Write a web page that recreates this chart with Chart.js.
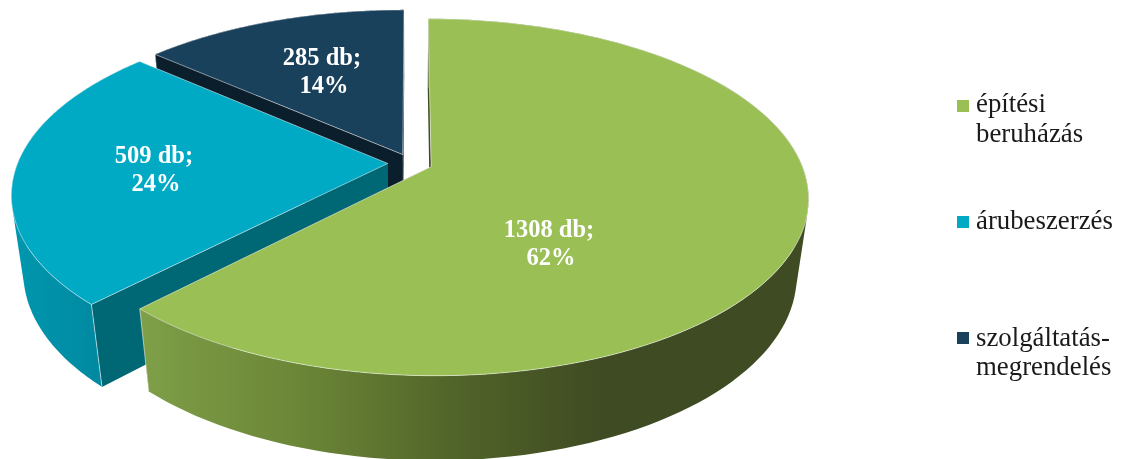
<!DOCTYPE html>
<html>
<head>
<meta charset="utf-8">
<style>
  html, body { margin: 0; padding: 0; background: #fff; }
  canvas { display: block; }
</style>
<script src="https://cdn.jsdelivr.net/npm/chart.js@4"></script>
</head>
<body>
<canvas id="chart" width="1125" height="459"></canvas>
<script>
'use strict';

var categories = [['építési', 'beruházás'], ['árubeszerzés'], ['szolgáltatás-', 'megrendelés']];
var values = [1308, 509, 285];
var percents = [62, 24, 14];
var sliceColors = ['#99BF55', '#00A9C4', '#1A415C'];

// perspective of the pie plane (the library's own arcs give the angles and radius)
var view = { x0: 411, y0: 163, a: 172, b: 370, p: 0.17, q: 0.03, h: 79 };
var wallColors = ['#3F4B22', '#006875', '#0B1E2C'];
var rimStops = [
  [[138, '#7F9F48'], [300, '#6B8637'], [450, '#526529'], [600, '#3F4B22']],
  [[15, '#0097AE'], [100, '#0089A1']],
  [[150, '#0B1E2C'], [400, '#0B1E2C']]
];
var labelPos = [[549, 229], [154, 155], [322, 57]];
var legendPos = [
  { box: 100, lines: [112, 142] },
  { box: 216, lines: [229] },
  { box: 332, lines: [346, 375] }
];

function project(u, v, d) {
  var w = 1 - view.p * v + view.q * d;
  return { x: view.x0 + view.b * u / w, y: view.y0 + (view.a * v + view.h * d) / w };
}

function slicePoints(el) {
  var mid = (el.startAngle + el.endAngle) / 2;
  var e = el.options.offset / el.outerRadius;
  var ox = Math.cos(mid) * e, oy = Math.sin(mid) * e;
  var rim = [];
  var n = 120;
  for (var i = 0; i <= n; i++) {
    var a = el.startAngle + (el.endAngle - el.startAngle) * i / n;
    rim.push([ox + Math.cos(a), oy + Math.sin(a)]);
  }
  return { apex: [ox, oy], rim: rim };
}

function addPoly(ctx, pts) {
  pts.forEach(function(p, i) {
    if (i === 0) ctx.moveTo(p.x, p.y); else ctx.lineTo(p.x, p.y);
  });
  ctx.closePath();
}

function poly(ctx, pts) {
  ctx.beginPath();
  addPoly(ctx, pts);
}

function area(pts) {
  var sum = 0;
  pts.forEach(function(p, i) {
    var q = pts[(i + 1) % pts.length];
    sum += p.x * q.y - q.x * p.y;
  });
  return sum;
}

function drawSlice(ctx, el, i) {
  var s = slicePoints(el);
  var first = s.rim[0], last = s.rim[s.rim.length - 1];

  // radial walls
  [first, last].forEach(function(r) {
    poly(ctx, [
      project(s.apex[0], s.apex[1], 0), project(r[0], r[1], 0),
      project(r[0], r[1], 1), project(s.apex[0], s.apex[1], 1)
    ]);
    ctx.fillStyle = wallColors[i];
    ctx.fill();
  });

  // outer wall: quads wound the same way in one path, so no seams and a closed silhouette
  var stops = rimStops[i];
  var x1 = stops[0][0], x2 = stops[stops.length - 1][0];
  var grad = ctx.createLinearGradient(x1, 0, x2, 0);
  stops.forEach(function(st) { grad.addColorStop((st[0] - x1) / (x2 - x1), st[1]); });
  var top = s.rim.map(function(r) { return project(r[0], r[1], 0); });
  var bottom = s.rim.map(function(r) { return project(r[0], r[1], 1); });
  ctx.beginPath();
  for (var k = 0; k < top.length - 1; k++) {
    var quad = [top[k], top[k + 1], bottom[k + 1], bottom[k]];
    if (area(quad) < 0) quad.reverse();
    addPoly(ctx, quad);
  }
  ctx.fillStyle = grad;
  ctx.fill();

  // corner edges
  ctx.strokeStyle = 'rgba(255,255,255,0.55)';
  ctx.lineWidth = 1;
  [first, last].forEach(function(r) {
    var a = project(r[0], r[1], 0), b = project(r[0], r[1], 1);
    ctx.beginPath();
    ctx.moveTo(a.x, a.y);
    ctx.lineTo(b.x, b.y);
    ctx.stroke();
  });

  // top face
  poly(ctx, [project(s.apex[0], s.apex[1], 0)].concat(top));
  ctx.fillStyle = el.options.backgroundColor;
  ctx.fill();
  ctx.strokeStyle = 'rgba(255,255,255,0.5)';
  ctx.stroke();
}

var pie3d = {
  id: 'pie3d',
  beforeDatasetDraw: function() { return false; },
  afterDatasetsDraw: function(chart) {
    var ctx = chart.ctx;
    var arcs = chart.getDatasetMeta(0).data;
    ctx.save();
    for (var i = arcs.length - 1; i >= 0; i--) drawSlice(ctx, arcs[i], i);

    ctx.textAlign = 'center';
    ctx.textBaseline = 'alphabetic';
    ctx.fillStyle = '#fff';
    ctx.font = 'bold 24.5px "Liberation Serif", serif';
    values.forEach(function(v, i) {
      ctx.fillText(v + ' db;', labelPos[i][0], labelPos[i][1] + 8);
      ctx.fillText(percents[i] + '%', labelPos[i][0] + 2, labelPos[i][1] + 36);
    });

    ctx.textAlign = 'left';
    ctx.font = '26.8px "Liberation Serif", serif';
    categories.forEach(function(lines, i) {
      ctx.fillStyle = sliceColors[i];
      ctx.fillRect(957, legendPos[i].box, 12, 12);
      ctx.fillStyle = '#1a1a1a';
      lines.forEach(function(t, j) {
        ctx.fillText(t, 976, legendPos[i].lines[j]);
      });
    });
    ctx.restore();
  }
};

new Chart(document.getElementById('chart'), {
  type: 'pie',
  data: {
    labels: categories,
    datasets: [{
      data: values,
      backgroundColor: sliceColors,
      offset: [13, 14, 12],
      borderWidth: 0
    }]
  },
  options: {
    responsive: false,
    animation: false,
    plugins: {
      legend: { display: false },
      tooltip: { enabled: false }
    }
  },
  plugins: [pie3d]
});
</script>
</body>
</html>
